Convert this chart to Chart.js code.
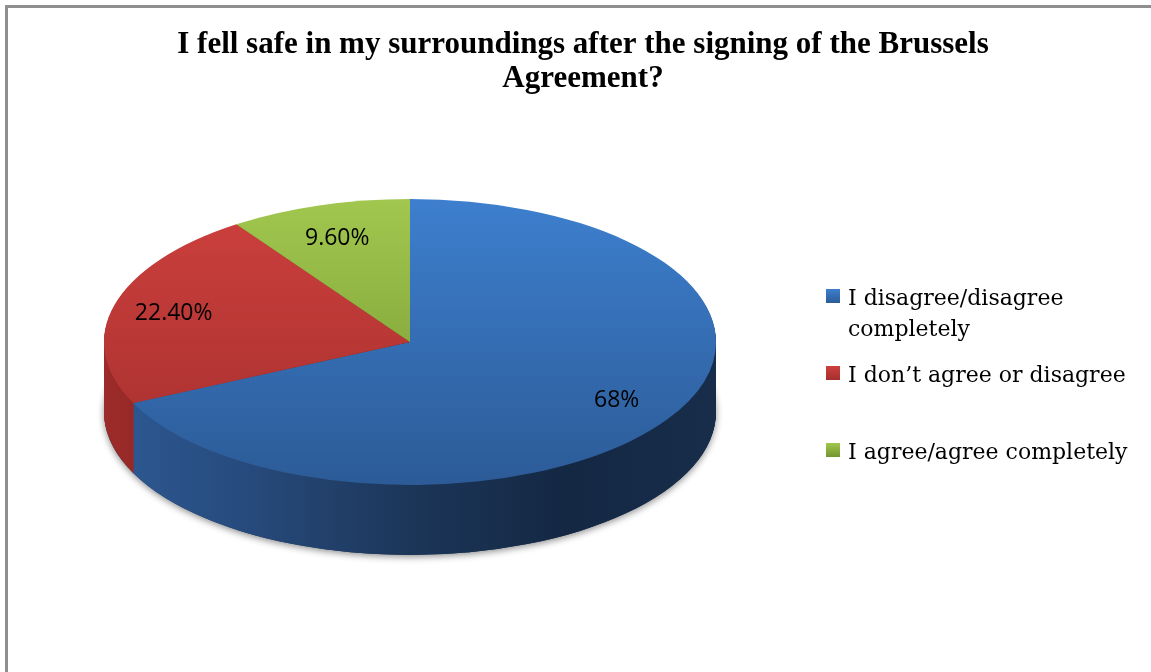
<!DOCTYPE html>
<html>
<head>
<meta charset="utf-8">
<script src="https://cdn.jsdelivr.net/npm/chart.js@4.4.1/dist/chart.umd.min.js"></script>
<style>
  html, body { margin: 0; padding: 0; background: #fff; overflow: hidden; }
  #frame { position: absolute; left: 5px; top: 5px; width: 1180px; height: 720px; border: 3px solid #8f8f8f; box-sizing: border-box; }
  #wrap { position: absolute; left: 0; top: 0; width: 1151px; height: 672px; }
</style>
</head>
<body>
<div id="frame"></div>
<div id="wrap"><canvas id="graph"></canvas></div>
<script>
// data
const categories = ['I disagree/disagree completely', 'I don’t agree or disagree', 'I agree/agree completely'];
const shares = [68, 22.4, 9.6];
const shareLabels = ['68%', '22.40%', '9.60%'];
const legendLines = [['I disagree/disagree', 'completely'], ['I don’t agree or disagree'], ['I agree/agree completely']];
const titleLines = ['I fell safe in my surroundings after the signing of the Brussels', 'Agreement?'];

// colours: top face (light -> dark) and side wall (left -> right)
const topColors = [['#3d7fce', '#2c5b97'], ['#cd403d', '#a42f2e'], ['#a1c74f', '#73952f']];
const sideColors = [
  ['#2e5a95', '#26497a', '#1c3659', '#142843', '#172d4a'],
  ['#9c2b29', '#7e2221', '#5c1817', '#451211', '#4a1413'],
  ['#7b9c36', '#62802a', '#4a6120', '#3a4c19', '#3e521b']
];

// where the tilted pie sits on the page
const PIE = { cx: 410, cy: 342, rx: 306, ry: 143, depth: 70 };
const LEG = { boxX: 826, textX: 848, box: 14, rows: [305, 382, 459], lineGap: 31 };

function faceFill(c) {
  const chart = c.chart, area = chart.chartArea;
  const cols = topColors[c.dataIndex];
  if (!area) return cols[0];
  const cy = (area.top + area.bottom) / 2;
  const r = Math.min(area.right - area.left, area.bottom - area.top) / 2;
  const g = chart.ctx.createLinearGradient(0, cy - r, 0, cy + r);
  g.addColorStop(0, cols[0]);
  g.addColorStop(1, cols[1]);
  return g;
}

const pie3d = {
  id: 'pie3d',
  beforeDatasetsDraw(chart) {
    const ctx = chart.ctx;
    const arcs = chart.getDatasetMeta(0).data;
    const grads = sideColors.map(stops => {
      const g = ctx.createLinearGradient(PIE.cx - PIE.rx, 0, PIE.cx + PIE.rx, 0);
      stops.forEach((s, i) => g.addColorStop(i / (stops.length - 1), s));
      return g;
    });
    ctx.save();
    // soft shadow under the disc
    ctx.save();
    ctx.shadowColor = 'rgba(0,0,0,0.45)';
    ctx.shadowBlur = 7;
    ctx.shadowOffsetY = 2;
    ctx.beginPath();
    ctx.ellipse(PIE.cx, PIE.cy + PIE.depth, PIE.rx, PIE.ry, 0, 0, Math.PI * 2);
    ctx.fillStyle = '#1a3050';
    ctx.fill();
    ctx.restore();
    // side walls, stacked layers
    for (let d = PIE.depth; d >= 1; d--) {
      arcs.forEach((arc, i) => {
        ctx.beginPath();
        ctx.moveTo(PIE.cx, PIE.cy + d);
        ctx.ellipse(PIE.cx, PIE.cy + d, PIE.rx, PIE.ry, 0, arc.startAngle, arc.endAngle);
        ctx.closePath();
        ctx.fillStyle = grads[i];
        ctx.fill();
      });
    }
    ctx.restore();
    // squash the flat pie into the top face
    const a = arcs[0];
    ctx.save();
    ctx.translate(PIE.cx, PIE.cy);
    ctx.scale(PIE.rx / a.outerRadius, PIE.ry / a.outerRadius);
    ctx.translate(-a.x, -a.y);
  },
  afterDatasetsDraw(chart) {
    const ctx = chart.ctx;
    ctx.restore();
    const arcs = chart.getDatasetMeta(0).data;
    ctx.save();
    ctx.font = '23px "Open Sans"';
    ctx.fillStyle = '#000';
    ctx.textAlign = 'center';
    ctx.textBaseline = 'middle';
    arcs.forEach((arc, i) => {
      const mid = (arc.startAngle + arc.endAngle) / 2;
      ctx.fillText(shareLabels[i], PIE.cx + Math.cos(mid) * PIE.rx * 0.8, PIE.cy + Math.sin(mid) * PIE.ry * 0.76);
    });
    ctx.restore();
  },
  afterDraw(chart) {
    const ctx = chart.ctx;
    ctx.save();
    ctx.font = '22px "DejaVu Serif"';
    ctx.fillStyle = '#000';
    ctx.textBaseline = 'alphabetic';
    legendLines.forEach((lines, i) => {
      const base = LEG.rows[i];
      const g = ctx.createLinearGradient(0, base - 16, 0, base - 2);
      g.addColorStop(0, topColors[i][0]);
      g.addColorStop(1, topColors[i][1]);
      ctx.fillStyle = g;
      ctx.fillRect(LEG.boxX, base - 16, LEG.box, LEG.box);
      ctx.fillStyle = '#000';
      lines.forEach((t, j) => ctx.fillText(t, LEG.textX, base + j * LEG.lineGap));
    });
    ctx.restore();
  }
};

const ctx = document.getElementById('graph').getContext('2d');
new Chart(ctx, {
  type: 'pie',
  data: {
    labels: categories,
    datasets: [{
      data: shares,
      backgroundColor: faceFill,
      borderWidth: 0
    }]
  },
  options: {
    responsive: true,
    maintainAspectRatio: false,
    animation: false,
    layout: { padding: { left: 15 } },
    plugins: {
      legend: { display: false },
      tooltip: { enabled: false },
      title: {
        display: true,
        text: titleLines,
        color: '#000',
        font: { family: 'Liberation Serif', size: 31, weight: 'bold', lineHeight: 1.1 },
        padding: { top: 28, bottom: 10 }
      }
    }
  },
  plugins: [pie3d]
});
</script>
</body>
</html>
